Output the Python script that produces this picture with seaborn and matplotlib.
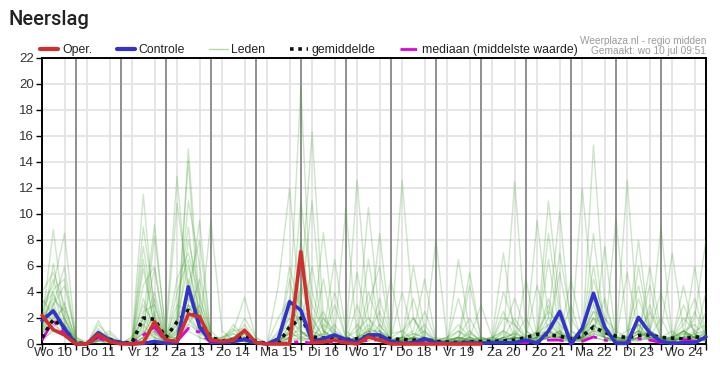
import numpy as np
import pandas as pd
import matplotlib
matplotlib.use("Agg")
import matplotlib.pyplot as plt
import seaborn as sns
from matplotlib.lines import Line2D

# ---------------- data ----------------
day_labels = ["Wo 10", "Do 11", "Vr 12", "Za 13", "Zo 14", "Ma 15", "Di 16", "Wo 17",
              "Do 18", "Vr 19", "Za 20", "Zo 21", "Ma 22", "Di 23", "Wo 24"]

# 6-hourly steps, in days since Wo 10 00:00 (first step 06:00 Wo 10)
time_days = [0.25 * (k + 1) for k in range(60)]

oper = [2.2, 1.1, 0.7, 0.0, 0.0, 0.75, 0.2, 0.0, 0.0, 0.1, 1.7, 0.3, 0.2, 2.3, 2.1, 0.3,
        0.2, 0.3, 1.05, 0.1, 0.0, 0.0, 0.0, 7.1, 0.1, 0.15, 0.3, 0.1, 0.0, 0.55, 0.3, 0.0,
        0.0, 0.0, 0.0, 0.0, 0.0, 0.0, 0.0, 0.0]

controle = [1.8, 2.55, 1.2, 0.0, 0.0, 0.87, 0.3, 0.1, 0.0, 0.05, 0.2, 0.05, 0.1, 4.4, 1.3, 0.2,
            0.1, 0.2, 0.35, 0.1, 0.0, 0.4, 3.25, 2.6, 0.2, 0.4, 0.7, 0.35, 0.15, 0.7, 0.7, 0.2,
            0.05, 0.1, 0.4, 0.1, 0.05, 0.05, 0.1, 0.05, 0.1, 0.1, 0.1, 0.3, 0.05, 1.0, 2.5, 0.0,
            1.2, 3.9, 1.3, 0.05, 0.05, 2.05, 0.85, 0.2, 0.05, 0.1, 0.1, 0.55]

gemiddelde = [0.5, 1.9, 1.2, 0.05, 0.05, 0.7, 0.35, 0.1, 0.1, 2.0, 1.9, 0.5, 1.7, 2.6, 1.85, 0.5,
              0.25, 0.3, 0.6, 0.2, 0.05, 0.05, 1.3, 2.0, 0.55, 0.45, 0.5, 0.35, 0.4, 0.6, 0.6, 0.4,
              0.35, 0.3, 0.35, 0.2, 0.15, 0.1, 0.15, 0.2, 0.2, 0.25, 0.3, 0.5, 0.75, 0.7, 0.6, 0.4,
              0.6, 1.3, 0.9, 0.6, 0.5, 0.65, 0.7, 0.5, 0.45, 0.4, 0.55, 0.5]

mediaan = [0.3, 1.8, 0.8, 0.0, 0.0, 0.5, 0.1, 0.0, 0.0, 0.7, 1.3, 0.2, 0.2, 1.2, 0.9, 0.1,
           0.05, 0.1, 0.4, 0.05, 0.0, 0.0, 0.1, 0.2, 0.05, 0.05, 0.15, 0.05, 0.1, 0.3, 0.3, 0.1,
           0.05, 0.05, 0.1, 0.05, 0.0, 0.0, 0.05, 0.05, 0.05, 0.05, 0.1, 0.1, 0.15, 0.3, 0.3, 0.1,
           0.2, 0.55, 0.3, 0.1, 0.1, 0.4, 0.3, 0.1, 0.1, 0.35, 0.2, 0.15]

leden = [
    [1.5, 8.8, 2.0, 0.0, 0.0, 1.2, 0.2, 0.0, 0.0, 3.5, 1.0, 0.2, 2.0, 6.0, 2.5, 0.3,
     0.1, 0.3, 0.8, 0.0, 0.0, 0.2, 2.5, 19.8, 1.0, 0.5, 1.5, 0.2, 0.3, 1.2, 0.8, 0.1,
     0.2, 0.5, 0.2, 0.0, 0.0, 0.3, 1.0, 0.2, 0.0, 0.5, 2.0, 0.5, 0.2, 1.5, 0.8, 0.3,
     0.5, 3.0, 1.0, 0.2, 0.1, 0.5, 2.5, 0.5, 0.2, 1.0, 0.5, 0.3],
    [3.0, 4.5, 8.5, 0.5, 0.0, 0.5, 0.1, 0.0, 0.3, 11.5, 2.0, 0.3, 1.0, 3.0, 1.5, 0.2,
     0.0, 0.5, 0.3, 0.0, 0.0, 0.0, 1.5, 4.0, 16.3, 2.0, 0.5, 0.3, 0.2, 0.8, 0.5, 0.0,
     0.5, 2.0, 0.8, 0.1, 0.0, 0.1, 0.3, 0.0, 0.2, 1.0, 3.5, 1.0, 0.3, 0.8, 5.5, 1.0,
     0.5, 1.0, 0.8, 0.3, 0.2, 1.5, 0.5, 0.2, 0.3, 0.5, 2.0, 8.0],
    [1.0, 6.2, 1.5, 0.2, 0.0, 0.8, 0.5, 0.1, 0.5, 2.0, 9.2, 0.5, 0.5, 15.0, 3.0, 0.5,
     0.2, 0.8, 0.3, 0.0, 0.0, 0.3, 6.0, 2.5, 1.0, 2.5, 0.5, 0.2, 0.5, 10.5, 2.0, 0.3,
     0.3, 0.5, 1.0, 0.2, 0.1, 0.2, 0.5, 0.0, 0.0, 0.3, 0.5, 0.2, 1.0, 11.0, 3.0, 0.5,
     0.3, 2.0, 1.0, 0.5, 0.5, 3.5, 1.0, 0.3, 0.1, 0.5, 0.8, 0.3],
    [2.0, 3.5, 2.5, 0.0, 0.1, 0.3, 0.8, 0.1, 0.0, 1.5, 5.8, 0.5, 10.8, 4.5, 2.0, 0.2,
     0.3, 1.0, 3.6, 0.5, 0.0, 0.1, 0.5, 11.0, 4.0, 1.0, 0.3, 0.0, 0.2, 0.5, 3.5, 0.5,
     12.6, 2.0, 0.3, 0.2, 0.2, 0.5, 0.3, 0.1, 0.0, 0.2, 1.0, 0.3, 0.3, 0.5, 1.0, 0.2,
     0.2, 15.3, 3.0, 0.5, 0.3, 0.8, 0.5, 0.2, 0.5, 1.0, 0.3, 0.2],
    [0.5, 2.0, 1.0, 0.0, 0.0, 1.8, 0.3, 0.0, 0.2, 0.8, 8.3, 1.0, 12.9, 3.0, 9.5, 0.5,
     0.0, 0.3, 1.5, 0.2, 0.0, 0.5, 1.0, 0.3, 0.5, 8.6, 1.0, 0.2, 0.0, 0.3, 0.5, 0.2,
     0.5, 1.0, 5.0, 0.3, 0.0, 6.5, 1.0, 0.2, 0.0, 0.2, 0.5, 0.3, 0.5, 2.0, 10.2, 1.0,
     0.3, 0.8, 0.5, 9.6, 1.0, 1.5, 0.3, 0.2, 0.2, 0.5, 1.0, 0.5],
    [4.0, 5.5, 3.0, 0.3, 0.0, 0.5, 1.0, 0.2, 0.0, 5.8, 1.5, 0.3, 1.5, 14.1, 1.0, 0.2,
     0.5, 0.8, 0.5, 0.0, 0.0, 4.5, 12.0, 2.0, 0.5, 0.8, 6.5, 1.0, 0.3, 0.5, 8.5, 0.8,
     1.0, 0.3, 0.2, 0.0, 0.2, 0.5, 2.0, 0.3, 0.5, 7.0, 0.5, 0.2, 0.2, 0.5, 0.8, 0.3,
     0.5, 2.5, 0.8, 0.5, 0.3, 0.5, 6.0, 1.0, 7.0, 1.0, 0.5, 0.3],
    [1.0, 3.0, 4.5, 0.5, 0.2, 0.5, 0.2, 0.0, 0.0, 0.5, 1.0, 0.0, 0.5, 2.0, 1.0, 9.5,
     1.0, 0.3, 0.2, 0.0, 0.0, 0.0, 0.5, 3.0, 11.0, 1.0, 0.3, 0.5, 12.6, 2.0, 0.5, 0.2,
     0.3, 0.5, 1.5, 0.2, 0.5, 1.0, 0.3, 0.0, 0.2, 0.5, 12.5, 1.0, 0.5, 1.0, 0.5, 0.3,
     1.0, 3.5, 0.8, 0.3, 12.6, 1.0, 0.5, 0.2, 0.2, 0.5, 0.8, 1.0],
    [2.0, 2.5, 1.5, 0.0, 0.0, 0.3, 0.0, 0.0, 0.0, 1.0, 0.5, 0.0, 0.3, 5.0, 2.0, 0.3,
     0.0, 0.0, 0.5, 0.0, 0.0, 0.0, 0.3, 1.5, 0.5, 0.3, 0.5, 10.5, 0.2, 1.0, 1.0, 0.3,
     0.2, 0.3, 0.5, 8.0, 0.3, 0.5, 0.2, 0.0, 0.0, 0.5, 0.8, 0.5, 9.5, 2.0, 0.5, 0.2,
     12.0, 3.0, 0.5, 0.2, 0.5, 1.0, 0.3, 0.5, 0.3, 0.5, 6.0, 0.5],
    [0.3, 1.0, 0.8, 0.0, 0.0, 0.8, 0.2, 0.0, 0.0, 0.3, 0.5, 0.1, 0.5, 1.0, 0.5, 0.2,
     0.2, 0.5, 1.0, 0.1, 0.0, 0.2, 0.5, 0.8, 1.0, 0.5, 0.3, 0.2, 0.3, 0.5, 0.3, 0.2,
     0.1, 0.2, 0.5, 0.1, 0.0, 0.3, 0.5, 0.2, 0.2, 0.3, 0.5, 0.3, 0.3, 0.5, 1.0, 0.5,
     0.5, 1.5, 0.5, 0.3, 0.2, 0.5, 1.0, 0.5, 0.3, 0.5, 0.5, 0.3],
    [1.5, 3.8, 2.0, 0.2, 0.0, 1.0, 0.5, 0.0, 0.0, 2.5, 3.0, 0.5, 3.0, 2.5, 1.5, 0.5,
     0.3, 0.5, 0.8, 0.2, 0.0, 1.0, 2.0, 1.0, 0.5, 1.5, 0.8, 0.3, 0.5, 1.0, 0.5, 0.3,
     0.5, 0.8, 0.5, 0.2, 0.1, 0.3, 0.8, 0.3, 0.5, 1.0, 0.5, 0.2, 0.8, 1.5, 2.0, 0.5,
     1.0, 2.0, 1.5, 0.5, 0.5, 1.0, 0.8, 0.3, 0.5, 1.0, 1.5, 0.5],
    [0.8, 2.8, 1.2, 0.0, 0.0, 0.2, 0.5, 0.2, 0.0, 4.5, 6.0, 0.3, 0.8, 8.0, 4.0, 0.2,
     0.0, 0.2, 0.3, 0.0, 0.0, 0.0, 5.0, 1.0, 0.2, 0.5, 3.0, 0.5, 5.5, 1.0, 0.2, 0.0,
     0.5, 3.5, 0.5, 0.2, 0.0, 0.2, 4.5, 0.5, 0.3, 4.0, 1.5, 0.3, 0.5, 6.5, 1.0, 0.3,
     0.3, 5.0, 2.0, 0.5, 1.0, 4.5, 0.5, 0.3, 0.5, 1.5, 3.5, 0.5],
    [2.5, 1.8, 0.5, 0.0, 0.0, 0.0, 0.3, 0.0, 0.3, 7.5, 2.0, 0.5, 1.5, 11.0, 6.0, 0.3,
     0.2, 0.5, 0.2, 0.0, 0.0, 0.5, 0.3, 2.5, 2.0, 0.5, 0.2, 0.0, 0.2, 3.0, 6.0, 0.5,
     0.3, 0.5, 0.3, 0.0, 0.0, 0.5, 0.3, 0.5, 0.3, 0.5, 0.3, 5.0, 0.5, 0.3, 0.5, 3.0,
     0.2, 0.5, 7.5, 0.5, 0.5, 0.3, 3.0, 0.5, 0.5, 0.5, 0.3, 4.0],
    [1.2, 4.2, 5.0, 0.5, 0.0, 0.5, 0.3, 0.0, 0.0, 0.5, 2.5, 0.3, 5.0, 7.0, 3.5, 1.0,
     0.2, 1.5, 0.5, 0.0, 0.0, 0.2, 1.0, 6.0, 3.0, 1.0, 0.5, 0.3, 0.5, 0.3, 1.5, 0.3,
     0.2, 0.5, 0.3, 0.5, 0.3, 0.3, 0.2, 0.0, 0.3, 0.8, 0.3, 0.2, 0.3, 3.0, 0.5, 0.5,
     0.5, 8.5, 1.0, 0.3, 0.3, 0.5, 0.5, 2.0, 0.3, 4.5, 0.5, 0.3],
    [0.5, 1.5, 2.0, 0.2, 0.0, 0.5, 0.5, 0.0, 0.0, 0.2, 0.8, 0.2, 0.3, 1.5, 3.0, 0.5,
     0.0, 0.3, 0.2, 0.0, 0.0, 0.0, 0.2, 0.5, 0.8, 0.3, 0.5, 0.2, 0.3, 0.2, 0.5, 0.3,
     0.2, 0.3, 0.2, 0.1, 0.2, 0.3, 0.1, 0.0, 0.0, 0.2, 0.3, 0.2, 0.2, 0.5, 0.3, 0.2,
     0.3, 0.8, 0.5, 0.2, 0.3, 0.3, 0.5, 0.2, 0.2, 0.3, 0.5, 0.2],
    [3.5, 2.2, 1.0, 0.0, 0.0, 1.5, 0.5, 0.0, 0.5, 3.0, 1.5, 0.0, 2.0, 3.5, 2.0, 0.5,
     0.5, 1.0, 1.2, 0.3, 0.0, 2.0, 3.5, 1.0, 0.3, 2.0, 1.0, 0.5, 1.0, 2.0, 1.0, 0.5,
     1.0, 2.0, 0.5, 0.3, 0.5, 1.5, 0.5, 0.3, 0.3, 2.0, 1.5, 0.5, 1.0, 2.5, 1.5, 0.5,
     0.8, 2.5, 2.0, 1.0, 0.5, 1.5, 1.0, 0.5, 0.5, 2.0, 1.0, 1.5],
    [1.8, 3.2, 0.8, 0.0, 0.0, 0.3, 0.1, 0.0, 0.0, 1.2, 4.0, 0.5, 0.5, 2.5, 0.8, 0.2,
     0.0, 0.2, 0.5, 0.0, 0.0, 0.3, 0.8, 4.5, 1.5, 0.3, 0.2, 0.0, 0.0, 4.0, 1.5, 0.3,
     0.5, 0.2, 0.0, 0.0, 0.0, 0.0, 0.5, 3.0, 0.5, 0.3, 0.2, 0.5, 0.3, 0.5, 7.0, 2.0,
     0.5, 1.0, 0.5, 0.3, 0.2, 6.0, 1.0, 0.3, 0.3, 0.5, 0.3, 1.0],
    [0.2, 1.2, 3.2, 0.2, 0.1, 0.6, 0.2, 0.0, 0.0, 0.5, 1.8, 0.2, 0.8, 4.0, 1.0, 0.3,
     0.0, 0.5, 1.0, 0.2, 0.0, 0.0, 1.5, 2.0, 0.5, 0.2, 0.5, 0.3, 1.5, 0.5, 0.3, 0.2,
     0.3, 0.5, 2.5, 0.3, 0.2, 0.5, 0.3, 0.2, 0.2, 0.3, 0.5, 0.3, 0.5, 0.8, 0.5, 0.3,
     0.2, 1.0, 3.5, 0.3, 0.2, 0.5, 0.3, 0.5, 1.0, 0.3, 0.5, 0.2],
    [2.2, 5.0, 1.8, 0.0, 0.0, 0.2, 0.3, 0.0, 0.2, 2.0, 0.8, 0.0, 4.0, 6.5, 1.2, 0.3,
     0.3, 0.2, 2.0, 0.5, 0.0, 0.5, 0.5, 0.3, 0.2, 0.5, 0.8, 0.2, 0.5, 1.5, 0.5, 0.3,
     0.5, 0.3, 0.5, 0.2, 0.3, 1.0, 0.5, 0.3, 0.5, 0.3, 0.5, 0.5, 4.5, 1.0, 0.3, 0.2,
     0.5, 0.5, 0.3, 0.2, 0.3, 0.2, 0.5, 0.3, 0.3, 0.8, 0.5, 0.5],
    [1.0, 2.3, 1.3, 0.0, 0.0, 1.0, 0.3, 0.0, 0.0, 0.8, 2.2, 0.3, 1.2, 3.0, 2.5, 0.3,
     0.0, 0.3, 0.8, 0.0, 0.0, 0.2, 0.8, 1.0, 0.3, 0.8, 0.3, 0.2, 0.3, 0.8, 0.5, 0.2,
     0.3, 0.3, 0.2, 0.2, 0.2, 0.2, 0.3, 0.2, 0.2, 0.5, 0.3, 0.2, 0.2, 0.5, 0.5, 0.5,
     0.3, 1.2, 0.5, 0.5, 0.3, 0.8, 0.5, 0.2, 0.2, 0.5, 0.3, 0.3],
    [0.8, 2.0, 2.8, 0.3, 0.0, 0.2, 0.5, 0.0, 0.0, 9.0, 3.0, 0.2, 0.5, 2.0, 5.0, 0.5,
     0.0, 0.2, 0.3, 0.0, 0.0, 0.3, 2.0, 0.8, 0.5, 5.0, 0.5, 0.2, 0.3, 6.5, 1.0, 0.2,
     0.3, 0.5, 0.5, 0.2, 0.2, 3.5, 0.5, 0.0, 0.2, 0.3, 0.5, 2.0, 0.3, 0.5, 2.5, 0.5,
     0.5, 2.0, 0.5, 0.2, 0.3, 0.5, 1.0, 4.0, 0.5, 3.0, 0.8, 0.3],
    [0.5, 1.5, 0.8, 0.0, 0.0, 0.5, 0.2, 0.0, 0.0, 1.5, 0.5, 0.2, 2.5, 9.0, 1.5, 0.3,
     0.2, 0.3, 0.5, 0.0, 0.0, 0.2, 3.0, 1.5, 6.0, 1.0, 0.5, 0.2, 0.5, 0.8, 2.5, 0.3,
     0.3, 6.0, 1.0, 0.2, 0.2, 0.5, 0.3, 0.2, 0.3, 2.5, 0.5, 0.3, 0.5, 3.5, 0.8, 0.3,
     0.5, 6.0, 1.0, 0.5, 0.3, 0.8, 4.5, 0.5, 0.3, 0.5, 2.5, 0.5],
    [1.2, 3.0, 6.0, 0.3, 0.0, 0.3, 0.2, 0.0, 0.0, 0.5, 3.5, 0.3, 1.0, 2.0, 0.5, 0.2,
     0.0, 0.5, 0.3, 0.0, 0.0, 0.0, 0.5, 8.0, 2.0, 0.5, 0.3, 0.2, 3.0, 0.5, 0.3, 5.0,
     0.5, 0.3, 0.2, 0.0, 0.0, 0.3, 0.2, 0.5, 0.2, 0.5, 0.3, 0.2, 0.3, 0.5, 0.5, 5.0,
     1.0, 0.5, 0.3, 0.2, 0.5, 1.0, 0.5, 9.0, 0.5, 0.3, 0.5, 0.8],
    [2.8, 4.0, 1.0, 0.0, 0.0, 0.8, 0.3, 0.0, 0.0, 6.5, 1.0, 0.2, 0.3, 1.5, 1.0, 0.2,
     0.5, 1.2, 0.2, 0.0, 0.0, 0.8, 1.5, 0.5, 0.3, 0.5, 4.0, 0.5, 0.2, 0.5, 0.3, 0.5,
     4.0, 0.5, 0.3, 0.2, 0.3, 0.5, 5.5, 0.5, 0.2, 0.3, 0.5, 0.5, 0.8, 1.0, 0.5, 0.3,
     0.5, 4.0, 0.5, 0.3, 5.5, 0.8, 0.3, 0.2, 0.5, 1.0, 0.5, 2.5],
    [0.8, 1.8, 1.5, 0.0, 0.0, 0.3, 0.3, 0.0, 0.0, 0.3, 1.0, 0.2, 0.5, 3.0, 1.5, 0.2,
     0.0, 0.2, 0.5, 0.0, 0.0, 0.3, 0.8, 0.5, 0.3, 0.5, 0.3, 0.3, 0.5, 1.0, 0.5, 0.2,
     0.3, 0.8, 0.5, 0.2, 0.3, 0.5, 0.3, 0.2, 0.2, 0.5, 0.8, 0.3, 0.5, 1.0, 0.8, 0.5,
     0.5, 1.5, 0.8, 0.3, 0.5, 1.0, 0.5, 0.3, 0.5, 0.8, 0.5, 0.5],
    [1.5, 2.6, 1.0, 0.0, 0.0, 0.5, 0.2, 0.0, 0.0, 2.0, 1.5, 0.0, 0.5, 4.5, 8.0, 0.5,
     0.3, 0.5, 0.3, 0.0, 0.0, 0.0, 1.0, 3.5, 0.5, 0.3, 0.5, 0.2, 0.3, 0.5, 1.0, 0.3,
     0.5, 0.3, 0.5, 0.3, 0.5, 0.2, 0.3, 0.0, 0.5, 1.0, 0.5, 0.3, 0.5, 8.5, 2.0, 0.5,
     0.3, 1.5, 0.5, 0.3, 0.5, 8.0, 1.0, 0.5, 0.5, 1.0, 0.5, 0.3],
]

# ---------------- figure ----------------
sns.set_theme(style="white")
plt.rcParams["font.family"] = ["Liberation Sans", "DejaVu Sans"]

W, H = 720, 378
fig = plt.figure(figsize=(W / 100, H / 100), dpi=100)
L, R, T, B = 42, 706, 58, 344
ax = fig.add_axes([L / W, 1 - B / H, (R - L) / W, (B - T) / H])

t_all = np.array(time_days)
rows = []
for m, vals in enumerate(leden):
    for tt, v in zip(t_all, vals):
        rows.append((m, tt, v))
df_leden = pd.DataFrame(rows, columns=["member", "t", "v"])

green = "#3f9e2c"
sns.lineplot(data=df_leden, x="t", y="v", units="member", estimator=None,
             color=green, alpha=0.26, lw=1.0, ax=ax, legend=False, zorder=3)

sns.lineplot(x=t_all, y=mediaan, color="#e000e0", lw=2.0,
             linestyle=(0, (6, 2.5, 1.5, 2.5)), ax=ax, zorder=4)
sns.lineplot(x=t_all, y=gemiddelde, color="#111111", lw=2.6,
             linestyle=(0, (1, 1.3)), ax=ax, zorder=5)
sns.lineplot(x=t_all, y=controle, color="#3333cc", lw=2.6, ax=ax, zorder=6,
             clip_on=False)
sns.lineplot(x=t_all[:len(oper)], y=oper, color="#d12f2f", lw=2.6, ax=ax, zorder=7,
             clip_on=False)

ax.set_xlim(0.25, 15.0)
ax.set_ylim(0, 22)
ax.set_xlabel("")
ax.set_ylabel("")

# grid
ax.set_yticks(np.arange(0, 23, 2))
ax.set_xticks([d + 0.5 for d in range(15)])
ax.set_xticklabels(day_labels)
ax.set_xticks(t_all, minor=True)
ax.grid(True, which="major", axis="y", color="#e3e3e3", lw=1.3, zorder=0)
ax.grid(True, which="minor", axis="x", color="#e3e3e3", lw=1.3, zorder=0)
ax.grid(False, which="major", axis="x")
for d in range(1, 15):
    ax.axvline(d, color="#8a8a8a", lw=1.3, zorder=1)
ax.set_axisbelow(True)

for s in ax.spines.values():
    s.set_visible(True)
    s.set_color("#000000")
    s.set_linewidth(1.4)

ax.tick_params(axis="y", which="major", direction="out", length=4, width=1,
               color="#000000", labelsize=9.5, labelcolor="#333333", pad=2, left=True)
ax.tick_params(axis="x", which="both", direction="out", length=4, width=1,
               color="#000000", bottom=True)
ax.tick_params(axis="x", which="major", labelsize=9.5, labelcolor="#333333", pad=2,
               length=0)

# title
fig.text(8 / W, 1 - 25 / H, "Neerslag", fontsize=14.5, family=["Roboto", "DejaVu Sans"],
         fontweight="medium", color="#222222", ha="left", va="baseline")

# legend
handles = [
    Line2D([], [], color="#d12f2f", lw=3),
    Line2D([], [], color="#3333cc", lw=3),
    Line2D([], [], color="#7cc46a", lw=1, alpha=0.6),
    Line2D([], [], color="#111111", lw=2.6, linestyle=(0, (1, 1.3))),
    Line2D([], [], color="#e000e0", lw=2.0, linestyle=(0, (6, 2.5, 1.5, 2.5))),
]
labels = ["Oper.", "Controle", "Leden", "gemiddelde", "mediaan (middelste waarde)"]
fig.legend(handles, labels, loc="center left", bbox_to_anchor=(40 / W, 1 - 50 / H),
           ncol=5, frameon=False, fontsize=8.8, handlelength=1.5, handletextpad=0.3,
           columnspacing=2.0, borderpad=0, borderaxespad=0, labelcolor="#222222")

fig.text(R / W, 1 - 41 / H, "Weerplaza.nl - regio midden", fontsize=7.3,
         color="#9a9a9a", ha="right", va="center")
fig.text(R / W, 1 - 51 / H, "Gemaakt: wo 10 jul 09:51", fontsize=7.3,
         color="#9a9a9a", ha="right", va="center")

fig.savefig("out.png", dpi=100)
